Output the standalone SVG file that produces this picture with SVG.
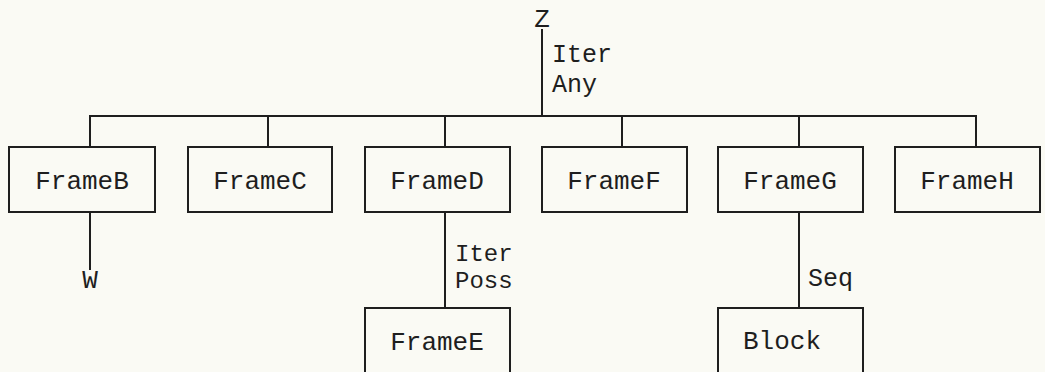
<svg xmlns="http://www.w3.org/2000/svg" width="1045" height="372" viewBox="0 0 1045 372">
  <style>
    .bg { fill: #fafaf4; }
    .box { fill: none; stroke: #1e1e1e; stroke-width: 2; }
    .ln { fill: none; stroke: #1e1e1e; stroke-width: 2; }
    text { font-family: "Liberation Mono", "DejaVu Sans Mono", monospace; font-size: 26px; fill: #1e1e1e; }
    .lbl { font-size: 25px; }
    .sm { font-size: 24px; }
    .c { text-anchor: middle; }
  </style>
  <rect class="bg" x="0" y="0" width="1045" height="372"/>

  <!-- connectors and their labels -->
  <g id="connectors">
    <path class="ln" d="M542 29 V116"/>
    <path class="ln" d="M90 147 V116 H976 V147"/>
    <path class="ln" d="M268 116 V147"/>
    <path class="ln" d="M445 116 V147"/>
    <path class="ln" d="M622 116 V147"/>
    <path class="ln" d="M799 116 V147"/>
    <path class="ln" d="M90 212 V270"/>
    <path class="ln" d="M445 212 V308"/>
    <path class="ln" d="M799 212 V308"/>
    <text class="lbl" x="552" y="62">Iter</text>
    <text class="lbl" x="552" y="92">Any</text>
    <text class="sm" x="455" y="261">Iter</text>
    <text class="sm" x="455" y="288">Poss</text>
    <text class="lbl" x="808" y="286">Seq</text>
  </g>

  <g id="Z"><text class="c" x="542" y="27">Z</text></g>
  <g id="W"><text class="c" x="90" y="288">W</text></g>

  <g id="FrameB">
    <rect class="box" x="9" y="147" width="146" height="65"/>
    <text class="c" x="82" y="189">FrameB</text>
  </g>
  <g id="FrameC">
    <rect class="box" x="188" y="147" width="144" height="65"/>
    <text class="c" x="260" y="189">FrameC</text>
  </g>
  <g id="FrameD">
    <rect class="box" x="365" y="147" width="145" height="65"/>
    <text class="c" x="437" y="189">FrameD</text>
  </g>
  <g id="FrameF">
    <rect class="box" x="542" y="147" width="145" height="65"/>
    <text class="c" x="614" y="189">FrameF</text>
  </g>
  <g id="FrameG">
    <rect class="box" x="718" y="147" width="145" height="65"/>
    <text class="c" x="790" y="189">FrameG</text>
  </g>
  <g id="FrameH">
    <rect class="box" x="895" y="147" width="145" height="65"/>
    <text class="c" x="967" y="189">FrameH</text>
  </g>
  <g id="FrameE">
    <rect class="box" x="365" y="308" width="145" height="70"/>
    <text class="c" x="437" y="350">FrameE</text>
  </g>
  <g id="Block">
    <rect class="box" x="718" y="308" width="145" height="70"/>
    <text x="743" y="349">Block</text>
  </g>
</svg>
